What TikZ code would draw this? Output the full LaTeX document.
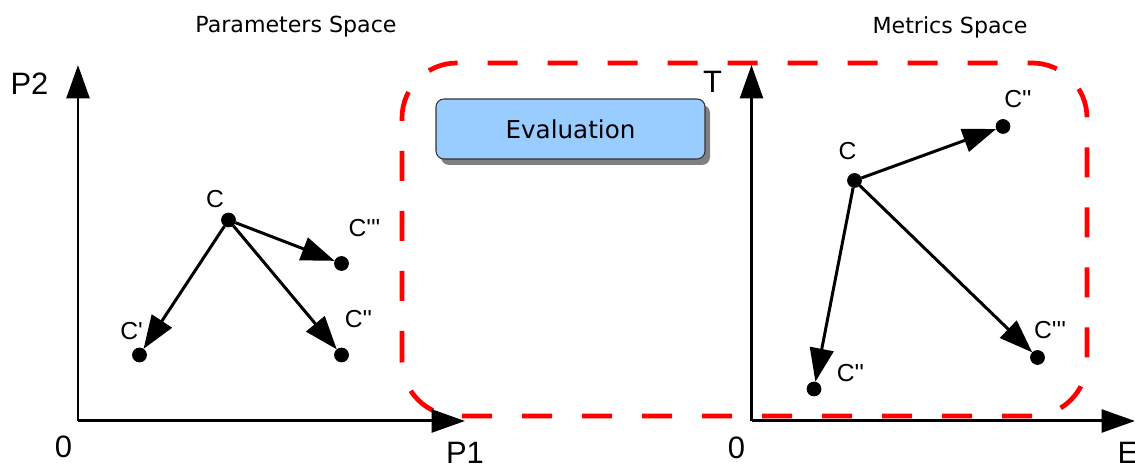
\documentclass[tikz,border=0pt]{standalone}
\usepackage{fontspec}
\setmainfont{Liberation Sans}[Ligatures=TeXOff]
\newfontfamily\veraFont{DejaVu Sans}
\usetikzlibrary{arrows.meta,shadows}
\definecolor{evalBlue}{HTML}{99CCFF}
\begin{document}
\begin{tikzpicture}[
    spaceAxis/.style={draw=black,line width=1.7pt,-{Triangle[length=19pt,width=13pt]}},
    spaceMove/.style={draw=black,line width=1.7pt,-{Triangle[length=19pt,width=13.5pt]}},
    spacePoint/.style={circle,fill=black,draw=black,minimum size=0.28cm,inner sep=0pt},
    axisLabel/.style={font=\fontsize{17.6}{20}\selectfont,inner sep=0pt},
    pointLabel/.style={font=\fontsize{14}{16}\selectfont,inner sep=0pt},
    spaceTitle/.style={font=\veraFont\fontsize{12.6}{15}\selectfont,inner sep=0pt},
    evalFrame/.style={draw=red,line width=2.7pt,dash pattern=on 0.6cm off 0.6cm,
                      rounded corners=1.1cm},
    evalBox/.style={draw=black!80,line width=0.6pt,fill=evalBlue,rounded corners=0.16cm,
                    minimum width=5.38cm,minimum height=1.2cm,
                    font=\veraFont\fontsize{14}{16}\selectfont,
                    drop shadow={shadow xshift=0.1cm,shadow yshift=-0.12cm,
                                 fill=gray,opacity=1}}]
    \useasboundingbox (0,0) rectangle (22.7,9.28);
    % evaluation frame
    \draw[evalFrame] (8.04,0.96) rectangle (21.74,8.02);
    \node[evalBox] (eval) at (11.41,6.70) {Evaluation};
    % parameters space
    \node[spaceTitle] (parTitle) at (5.92,8.74) {Parameters Space};
    \coordinate (pO) at (1.56,0.86);
    \coordinate (pY) at (1.56,7.98);
    \coordinate (pX) at (9.30,0.86);
    \draw[spaceAxis] (pO) -- (pY);
    \draw[spaceAxis] (pO) -- (pX);
    \node[axisLabel] (pYLab) at (0.59,7.61) {P2};
    \node[axisLabel] (pOLab) at (1.27,0.35) {0};
    \node[axisLabel] (pXLab) at (9.30,0.22) {P1};
    \node[spacePoint] (pC) at (4.57,4.88) {};
    \node[spacePoint] (pC1) at (2.79,2.18) {};
    \node[spacePoint] (pC2) at (6.83,2.18) {};
    \node[spacePoint] (pC3) at (6.83,4.01) {};
    \node[pointLabel] (pCLab) at (4.30,5.29) {C};
    \node[pointLabel] (pC1Lab) at (2.63,2.65) {C'};
    \node[pointLabel] (pC2Lab) at (7.17,2.89) {C''};
    \node[pointLabel] (pC3Lab) at (7.29,4.71) {C'''};
    \foreach \p in {pC1,pC2,pC3}{
        \draw[spaceMove] (pC) -- (\p);
    }
    % metrics space
    \node[spaceTitle] (metTitle) at (19.0,8.74) {Metrics Space};
    \coordinate (mO) at (15.03,0.86);
    \coordinate (mY) at (15.03,7.98);
    \coordinate (mX) at (22.70,0.86);
    \draw[spaceAxis] (mO) -- (mY);
    \draw[spaceAxis] (mO) -- (mX);
    \node[axisLabel] (mYLab) at (14.25,7.65) {T};
    \node[axisLabel] (mOLab) at (14.73,0.32) {0};
    \node[axisLabel] (mXLab) at (22.56,0.22) {E};
    \node[spacePoint] (mC) at (17.09,5.67) {};
    \node[spacePoint] (mC1) at (16.28,1.50) {};
    \node[spacePoint] (mC2) at (20.06,6.75) {};
    \node[spacePoint] (mC3) at (20.75,2.13) {};
    \node[pointLabel] (mCLab) at (16.95,6.25) {C};
    \node[pointLabel] (mC1Lab) at (17.01,1.82) {C''};
    \node[pointLabel] (mC2Lab) at (20.36,7.30) {C''};
    \node[pointLabel] (mC3Lab) at (21.00,2.68) {C'''};
    \foreach \p in {mC1,mC2,mC3}{
        \draw[spaceMove] (mC) -- (\p);
    }
\end{tikzpicture}
\end{document}
